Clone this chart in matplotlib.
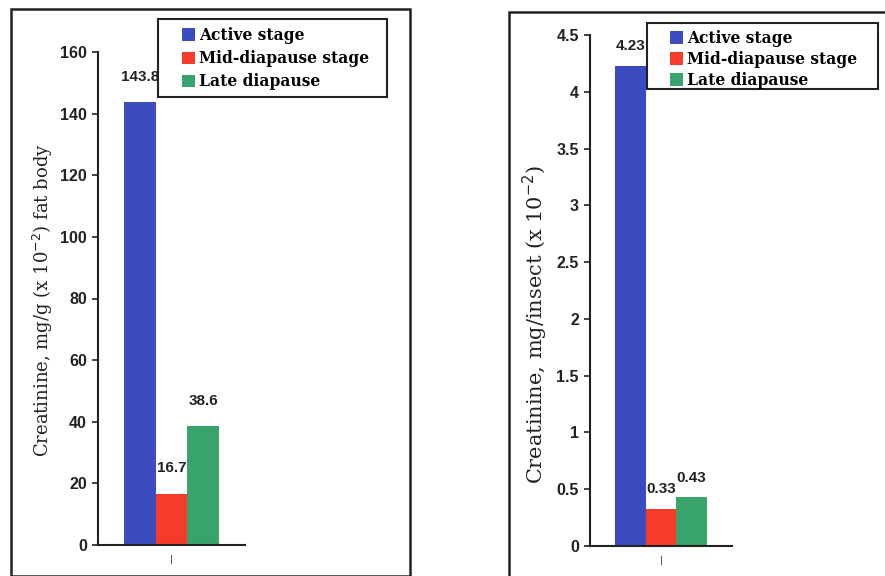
import matplotlib
matplotlib.use("Agg")
import matplotlib.pyplot as plt
from matplotlib.patches import Rectangle, Patch

# Creatinine levels for the three developmental stages
stages = ["Active stage", "Mid-diapause stage", "Late diapause"]
colors = ["#3b4cc0", "#f83a2a", "#38a36b"]
fat_body = [143.8, 16.7, 38.6]          # mg/g (x 10^-2) fat body
per_insect = [4.23, 0.33, 0.43]         # mg/insect (x 10^-2)
fat_ticks = [0, 20, 40, 60, 80, 100, 120, 140, 160]
insect_ticks = [0, 0.5, 1, 1.5, 2, 2.5, 3, 3.5, 4, 4.5]
insect_tick_labels = ["0", "0.5", "1", "1.5", "2", "2.5", "3", "3.5", "4", "4.5"]

W, H = 885, 576
fig = plt.figure(figsize=(W / 100, H / 100), dpi=100)
fig.patch.set_facecolor("white")

def px_rect(x0, y0, x1, y1):
    """Convert pixel box (top-left origin) to figure fraction rect."""
    return [x0 / W, 1 - y1 / H, (x1 - x0) / W, (y1 - y0) / H]

serif = ["DejaVu Serif"]
sans = ["Liberation Sans", "DejaVu Sans"]
ink = "#222222"

def panel(rect, values, ticks, ticklabels, ylim, ylabel, label_size, label_xy, fmt, gap):
    ax = fig.add_axes(rect)
    w = 0.215
    offsets = [-w, 0.0, w]
    for v, off, c in zip(values, offsets, colors):
        ax.bar(off, v, width=w, color=c, edgecolor="none")
        ax.annotate(fmt(v), (off, v), xytext=(0, gap), textcoords="offset points",
                    ha="center", va="bottom", fontsize=11, fontweight="bold",
                    family=sans, color=ink)
    ax.set_xlim(-0.5, 0.5)
    ax.set_ylim(*ylim)
    ax.set_yticks(ticks)
    ax.set_yticklabels(ticklabels, fontsize=11.5, fontweight="bold", family=sans, color=ink)
    ax.set_xticks([0])
    ax.set_xticklabels(["|"], fontsize=6, color=ink)
    ax.tick_params(axis="x", length=0, pad=7)
    ax.tick_params(axis="y", direction="out", length=4, width=1.2, color=ink, pad=4)
    for s in ("top", "right"):
        ax.spines[s].set_visible(False)
    for s in ("left", "bottom"):
        ax.spines[s].set_color(ink)
        ax.spines[s].set_linewidth(1.5)
    ax.set_ylabel(ylabel, fontsize=label_size, family=serif, color=ink)
    ax.yaxis.set_label_coords(*label_xy)
    ax.patch.set_visible(False)
    return ax

def legend_box(x0, y0, x1, y1, anchor_px, spacing):
    fig.patches.append(Rectangle((x0 / W, 1 - y1 / H), (x1 - x0) / W, (y1 - y0) / H,
                                 transform=fig.transFigure, fill=False,
                                 edgecolor=ink, linewidth=1.5))
    handles = [Patch(facecolor=c, edgecolor="none") for c in colors]
    fig.legend(handles, stages, loc="upper left",
               bbox_to_anchor=(anchor_px[0] / W, 1 - anchor_px[1] / H),
               bbox_transform=fig.transFigure, frameon=False,
               prop={"family": serif, "size": 11.2, "weight": "bold"},
               handlelength=0.85, handleheight=0.85, handletextpad=0.25,
               labelspacing=spacing, borderpad=0, borderaxespad=0)

# outer frames around each panel
fig.patches.append(Rectangle((11 / W, 1 - 576 / H), 399 / W, 567 / H,
                             transform=fig.transFigure, fill=False,
                             edgecolor=ink, linewidth=1.8))
fig.patches.append(Rectangle((509 / W, -0.05), 1.0, 1 - 12 / H + 0.05,
                             transform=fig.transFigure, fill=False,
                             edgecolor=ink, linewidth=1.8))

panel(px_rect(98, 52, 245, 545), fat_body, fat_ticks, [str(t) for t in fat_ticks],
      (0, 160), "Creatinine, mg/g (x 10$^{-2}$) fat body", 13, (-0.29, 0.497),
      lambda v: f"{v:.1f}", 13)

panel(px_rect(590, 35, 732, 546), per_insect, insect_ticks, insect_tick_labels,
      (0, 4.5), "Creatinine, mg/insect (x 10$^{-2}$)", 15, (-0.28, 0.434),
      lambda v: f"{v:.2f}", 9)

legend_box(158, 19, 387, 97, (182, 27), 0.4)
legend_box(647, 23, 878, 89, (670, 30), 0.25)

fig.savefig("out.png", dpi=100)
